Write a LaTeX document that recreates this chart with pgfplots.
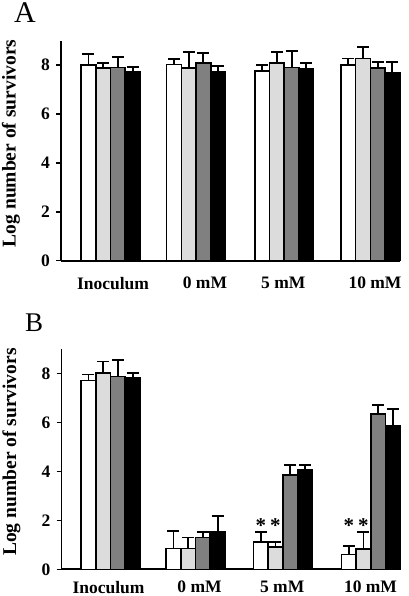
\documentclass[border=0pt]{standalone}
\usepackage{fontspec}
\setmainfont{Liberation Serif}
\usepackage{pgfplots}
\pgfplotsset{compat=1.18}
\definecolor{lgray}{RGB}{220,220,220}
\definecolor{dgray}{RGB}{128,128,128}

% x = bar centre (axis units = pt), y = mean, e = upper error
\pgfplotstableread{
x y e
88.45 8.00 0.45
173.95 8.02 0.23
262.15 7.76 0.24
348.25 8.00 0.27
}\AW
\pgfplotstableread{
x y e
103.15 7.88 0.22
188.65 7.88 0.64
276.85 8.08 0.44
362.95 8.27 0.47
}\AL
\pgfplotstableread{
x y e
117.85 7.90 0.43
203.35 8.08 0.41
291.55 7.91 0.68
377.65 7.88 0.26
}\AD
\pgfplotstableread{
x y e
132.55 7.73 0.18
218.05 7.73 0.22
306.25 7.85 0.22
392.35 7.70 0.44
}\AK

\pgfplotstableread{
x y e
87.95 7.73 0.24
172.95 0.85 0.71
260.25 1.11 0.42
348.25 0.61 0.35
}\BW
\pgfplotstableread{
x y e
102.65 8.04 0.46
187.65 0.85 0.45
274.95 0.91 0.22
362.95 0.84 0.68
}\BL
\pgfplotstableread{
x y e
117.35 7.89 0.68
202.35 1.30 0.23
289.65 3.85 0.42
377.65 6.35 0.36
}\BD
\pgfplotstableread{
x y e
132.05 7.85 0.18
217.05 1.52 0.65
304.35 4.08 0.19
392.35 5.86 0.68
}\BK

\pgfplotsset{
  panel/.style={
    scale only axis, width=339pt, height=220pt,
    xmin=61, xmax=400, ymin=0, ymax=9,
    axis x line=bottom, axis y line=left,
    axis line style={-, line width=1.8pt, black},
    ytick={0,2,4,6,8},
    tick align=outside,
    major tick length=5pt,
    ytick style={line width=1.4pt, black},
    xtick style={draw=none},
    /pgf/number format/assume math mode=true,
    ticklabel style={font=\bfseries\fontsize{17.5}{20}\selectfont},
    xticklabel style={inner sep=0pt, anchor=north},
    yticklabel style={xshift=-2.5pt},
    ylabel={Log number of survivors},
    ylabel style={font=\bfseries\fontsize{19.5}{22}\selectfont, inner sep=0pt, at={(axis description cs:-0.1336,0.533)}, anchor=base},
    clip=false,
  },
  bars/.style={ybar, bar width=14.7pt, bar shift=0pt, draw=black, line width=1.6pt,
    error bars/y dir=plus, error bars/y explicit,
    error bars/error bar style={line width=1.9pt, black},
    error bars/error mark options={rotate=90, black, line width=1.9pt, mark size=6pt}},
}

\begin{document}
\begin{tikzpicture}
\path[use as bounding box] (0,0) rectangle (408pt,596pt);

\begin{axis}[panel, at={(61pt,335.3pt)}, anchor=south west,
  xtick={113,205,283.3,375},
  xticklabels={Inoculum,0 mM,5 mM,10 mM},
  xticklabel style={yshift=-11pt}]
\addplot[bars, fill=white] table[x=x, y=y, y error=e]{\AW};
\addplot[bars, fill=lgray] table[x=x, y=y, y error=e]{\AL};
\addplot[bars, fill=dgray] table[x=x, y=y, y error=e]{\AD};
\addplot[bars, fill=black] table[x=x, y=y, y error=e]{\AK};
\end{axis}

\begin{axis}[panel, at={(61.5pt,26.7pt)}, anchor=south west,
  xtick={108,199,281.7,370},
  xticklabels={Inoculum,0 mM,5 mM,10 mM},
  xticklabel style={yshift=-6.5pt}]
\addplot[bars, fill=white] table[x=x, y=y, y error=e]{\BW};
\addplot[bars, fill=lgray] table[x=x, y=y, y error=e]{\BL};
\addplot[bars, fill=dgray] table[x=x, y=y, y error=e]{\BD};
\addplot[bars, fill=black] table[x=x, y=y, y error=e]{\BK};
\addplot[draw=none, nodes near coords={\bfseries\fontsize{21}{22}\selectfont *},
  every node near coord/.append style={anchor=center, inner sep=0pt}]
  coordinates {(260.25,1.78) (274.95,1.78) (348.25,1.78) (362.95,1.78)};
\end{axis}

\node[anchor=base west, inner sep=0pt] at (14pt,573pt) {\fontsize{30}{30}\selectfont A};
\node[anchor=base west, inner sep=0pt] at (25pt,264pt) {\fontsize{27}{27}\selectfont B};
\end{tikzpicture}
\end{document}
